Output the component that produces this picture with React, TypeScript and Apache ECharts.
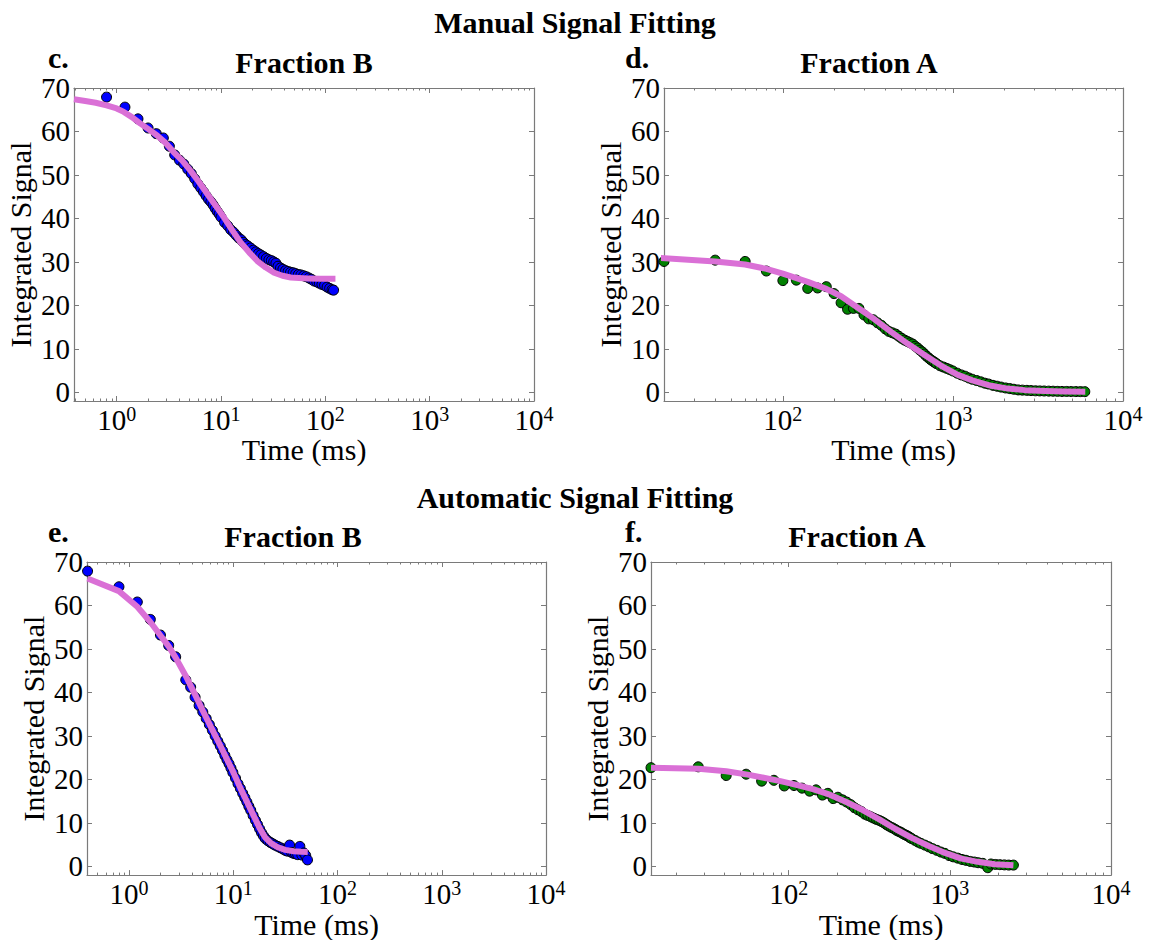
import React, { useEffect, useRef } from 'react';
import * as echarts from 'echarts';

const FONT = "'Liberation Serif', 'Times New Roman', 'DejaVu Serif', serif";
const GRAY = '#7a7a7a';
const FIT_COLOR = '#DA70D6';

// ---- Data: [time (ms), integrated signal] ----
const manualBPoints = [
  [0.8, 67.9], [1.2, 65.6], [1.6, 62.9], [2.0, 60.8], [2.4, 59.5], [2.8, 58.5], [3.2, 56.6], [3.6, 54.6],
  [4.0, 53.4], [4.4, 52.5], [4.8, 51.3], [5.2, 50.3], [5.6, 49.1], [6.0, 47.9], [6.4, 47.0], [6.8, 46.1],
  [7.2, 45.2], [7.6, 44.4], [8.0, 43.8], [8.4, 43.1], [8.8, 42.3], [9.2, 41.6], [9.6, 41.0], [10.0, 40.3],
  [10.8, 39.1], [11.6, 38.3], [12.4, 37.4], [13.2, 36.8], [14.0, 36.1], [14.8, 35.5], [15.6, 35.1], [16.4, 34.5],
  [17.2, 34.0], [18.0, 33.7], [19.2, 33.2], [20.4, 32.7], [21.6, 32.3], [22.8, 31.9], [24.0, 31.6], [25.6, 31.2],
  [27.2, 30.8], [28.8, 30.5], [30.4, 30.3], [32.0, 30.0], [33.6, 29.7], [35.2, 29.0], [37.2, 28.6], [39.2, 28.3],
  [41.6, 28.0], [44.0, 27.8], [46.4, 27.6], [49.2, 27.5], [52.0, 27.3], [55.2, 27.1], [58.4, 27.0], [62.0, 26.8],
  [65.6, 26.6], [69.6, 26.3], [73.6, 26.0], [78.0, 25.6], [82.8, 25.4], [87.6, 25.1], [92.8, 24.8], [98.4, 24.6],
  [104.0, 24.2], [110.0, 23.9], [116.0, 23.6], [120.0, 23.5],
];
const manualBFit = [
  [0.39, 67.4], [0.5, 67.0], [0.63, 66.6], [0.8, 66.0], [1.0, 65.3], [1.17, 64.5], [1.4, 63.3], [1.69, 61.8],
  [2.0, 60.6], [2.44, 59.1], [2.9, 57.5], [3.53, 55.2], [4.25, 53.3], [5.1, 51.0], [6.1, 48.5], [7.4, 45.6],
  [8.9, 42.9], [10.7, 40.2], [12.8, 37.3], [15.4, 34.5], [18.6, 32.2], [22.3, 30.2], [26.9, 28.7], [32.3, 27.5],
  [38.9, 26.8], [46.7, 26.4], [56, 26.3], [67.6, 26.2], [90, 26.1], [125, 26.1],
];

const manualAPoints = [
  [20, 30.1], [40, 30.4], [60, 30.1], [80, 27.9], [100, 25.7], [120, 25.8], [140, 23.9], [160, 24.0],
  [180, 24.3], [200, 22.7], [220, 20.6], [240, 19.1], [260, 19.3], [280, 19.3], [300, 17.8], [320, 16.9],
  [340, 16.7], [360, 16.0], [380, 15.4], [400, 14.6], [420, 14.0], [440, 13.7], [460, 13.4], [480, 12.9],
  [500, 12.4], [520, 12.0], [540, 11.7], [560, 11.4], [580, 11.1], [600, 10.6], [620, 10.2], [640, 9.7],
  [660, 9.3], [680, 8.8], [700, 8.3], [720, 7.9], [740, 7.5], [760, 7.2], [780, 6.9], [800, 6.6],
  [840, 6.1], [880, 5.8], [920, 5.5], [960, 5.2], [1000, 4.9], [1060, 4.4], [1120, 4.0], [1180, 3.7],
  [1240, 3.3], [1300, 3.0], [1380, 2.7], [1460, 2.4], [1540, 2.1], [1620, 1.9], [1720, 1.6], [1820, 1.4],
  [1920, 1.2], [2040, 1.0], [2160, 0.85], [2280, 0.7], [2420, 0.55], [2560, 0.5], [2720, 0.45], [2880, 0.4],
  [3060, 0.35], [3240, 0.32], [3440, 0.3], [3660, 0.27], [3880, 0.25], [4120, 0.22], [4380, 0.2], [4660, 0.2],
  [4960, 0.18], [5280, 0.17], [5620, 0.16], [5960, 0.15],
];
const manualAFit = [
  [19, 30.9], [40, 30.1], [60, 29.4], [80, 28.4], [100, 27.3], [140, 25.4], [180, 23.8], [220, 22.1],
  [280, 19.3], [340, 17.0], [433, 13.9], [540, 11.2], [681, 8.6], [853, 6.1], [1069, 4.0], [1300, 2.75],
  [1680, 1.5], [2100, 0.85], [2640, 0.5], [3500, 0.3], [4500, 0.2], [6000, 0.15],
];

const autoBPoints = [
  [0.4, 67.9], [0.8, 64.3], [1.2, 60.8], [1.6, 56.8], [2.0, 53.2], [2.4, 50.8], [2.8, 48.2], [3.5, 42.9],
  [3.9, 41.2], [4.3, 38.9], [4.7, 37.0], [5.1, 35.5], [5.5, 34.0], [5.9, 32.6], [6.3, 31.3], [6.7, 30.0],
  [7.1, 28.8], [7.5, 27.7], [7.9, 26.6], [8.3, 25.5], [8.7, 24.5], [9.1, 23.6], [9.5, 22.6], [9.9, 21.6],
  [10.5, 20.3], [11.1, 19.0], [11.7, 17.9], [12.3, 16.8], [12.9, 15.8], [13.5, 14.8], [14.1, 13.8], [14.7, 12.9],
  [15.5, 11.7], [16.3, 10.6], [17.1, 9.6], [17.9, 8.6], [18.7, 7.7], [19.5, 7.0], [20.3, 6.4], [21.5, 5.9],
  [22.7, 5.5], [23.9, 5.2], [25.1, 4.9], [26.7, 4.6], [28.3, 4.3], [29.9, 4.0], [31.5, 3.7], [33.1, 3.5],
  [34.7, 4.9], [36.3, 3.2], [37.9, 3.0], [39.5, 2.9], [41.5, 2.7], [43.5, 4.6], [45.5, 2.6], [47.5, 3.1],
  [49.5, 2.5], [51.5, 1.5],
];
const autoBFit = [
  [0.4, 66.2], [0.8, 63.3], [1.2, 59.7], [1.6, 56.2], [2.0, 53.1], [2.4, 50.6], [2.8, 48.0], [3.5, 43.8],
  [4.3, 39.5], [5.1, 35.8], [6.3, 31.4], [7.5, 27.8], [8.7, 24.6], [9.9, 21.9], [11.7, 18.0], [13.5, 14.9],
  [15.5, 11.9], [17.9, 8.8], [20.3, 6.6], [23.1, 5.3], [26.7, 4.4], [31.5, 3.8], [38, 3.5], [45, 3.35], [51.8, 3.3],
];

const autoAPoints = [
  [14, 22.7], [27.5, 22.9], [41, 20.9], [54.5, 21.2], [68, 19.6], [81, 19.8], [94, 18.5], [108, 18.6],
  [121, 18.0], [135, 17.3], [148, 17.6], [162, 16.4], [175, 16.8], [189, 15.6], [202, 15.9], [216, 15.3],
  [229, 14.8], [243, 14.2], [256, 13.5], [270, 13.0], [283, 12.6], [297, 12.0], [310, 11.7], [324, 11.4],
  [337, 11.1], [351, 10.8], [364, 10.6], [378, 10.3], [391, 10.0], [405, 9.6], [418, 9.3], [432, 9.0],
  [445, 8.8], [459, 8.5], [472, 8.2], [486, 8.0], [499, 7.8], [513, 7.5], [526, 7.3], [540, 7.1],
  [553, 6.9], [567, 6.6], [580, 6.4], [607, 6.0], [634, 5.6], [661, 5.3], [700, 4.9], [740, 4.5],
  [780, 4.1], [830, 3.7], [880, 3.3], [930, 3.0], [990, 2.5], [1050, 2.2], [1120, 1.9], [1190, 1.6],
  [1260, 1.4], [1340, 1.15], [1420, 1.0], [1500, 0.85], [1600, 0.7], [1720, -0.3], [1800, 0.55], [1920, 0.45],
  [2040, 0.4], [2180, 0.35], [2320, 0.3], [2480, 0.3],
];
const autoAFit = [
  [14, 22.7], [27.6, 22.45], [41, 21.9], [55.8, 21.1], [70, 20.4], [89, 19.6], [110, 18.8], [143, 17.7],
  [180, 16.5], [228, 14.8], [290, 12.9], [365, 10.8], [460, 8.6], [584, 6.5], [740, 4.7], [933, 3.1],
  [1180, 1.8], [1490, 1.05], [1900, 0.5], [2480, 0.25],
];

const yTickValues = [0, 10, 20, 30, 40, 50, 60, 70];
const xMajorValues = [1, 10, 100, 1000, 10000];
const Y_MIN = -2;
const Y_MAX = 70;
const X_MAX = 10000;

const panels = [
  { letter: 'c.', title: 'Fraction B', points: manualBPoints, fit: manualBFit, color: '#0000ff', xMin: 0.39,
    grid: { left: 74, top: 88, width: 460, height: 313 }, titleX: 304, titleY: 62, letterX: 48, letterY: 57 },
  { letter: 'd.', title: 'Fraction A', points: manualAPoints, fit: manualAFit, color: '#008000', xMin: 20,
    grid: { left: 664, top: 88, width: 459, height: 313 }, titleX: 869, titleY: 62, letterX: 625, letterY: 57 },
  { letter: 'e.', title: 'Fraction B', points: autoBPoints, fit: autoBFit, color: '#0000ff', xMin: 0.395,
    grid: { left: 87, top: 562, width: 459, height: 314 }, titleX: 293, titleY: 536, letterX: 48, letterY: 531 },
  { letter: 'f.', title: 'Fraction A', points: autoAPoints, fit: autoAFit, color: '#008000', xMin: 14,
    grid: { left: 651, top: 562, width: 460, height: 314 }, titleX: 857, titleY: 536, letterX: 625, letterY: 531 },
];

function minorValues(min: number): number[] {
  const out: number[] = [];
  for (let d = -1; d < 4; d++) {
    for (let k = 2; k <= 9; k++) {
      const v = parseFloat((k * Math.pow(10, d)).toPrecision(3));
      if (v > min && v < X_MAX) out.push(v);
    }
  }
  return out;
}

const xLabelFormatter = (v: number) => {
  const e = Math.round(Math.log10(v));
  if (Math.abs(Math.pow(10, e) - v) > 1e-6 * v) return '';
  return '{b|10}{s|' + e + '}';
};

const xRich = {
  b: { fontSize: 29, fontFamily: FONT, color: '#000', lineHeight: 30, verticalAlign: 'bottom' },
  s: { fontSize: 20, fontFamily: FONT, color: '#000', lineHeight: 18, verticalAlign: 'top' },
};

function buildOption() {
  const grid: any[] = [];
  const xAxis: any[] = [];
  const yAxis: any[] = [];
  const series: any[] = [];
  const graphic: any[] = [];

  const textEl = (text: string, x: number, y: number, align: string, lh: number) => ({
    type: 'text',
    silent: true,
    style: {
      text, x, y, fill: '#000',
      font: 'bold 30px ' + FONT,
      fontSize: 30, fontWeight: 'bold', fontFamily: FONT, lineHeight: lh,
      align, verticalAlign: 'middle', textAlign: align, textVerticalAlign: 'middle',
    },
  });

  graphic.push(textEl('Manual Signal Fitting', 575, 22.5, 'center', 30));
  graphic.push(textEl('Automatic Signal Fitting', 575, 497, 'center', 30));

  panels.forEach((p, i) => {
    grid.push({ ...p.grid, containLabel: false });
    const majors = xMajorValues.filter((v) => v >= p.xMin);
    const minors = minorValues(p.xMin);
    const baseX = {
      gridIndex: i, type: 'log', logBase: 10, min: p.xMin, max: X_MAX,
      splitLine: { show: false }, minorTick: { show: false }, minorSplitLine: { show: false },
    };
    xAxis.push({
      ...baseX, position: 'bottom',
      axisLine: { show: true, onZero: false, lineStyle: { color: GRAY, width: 1.2 } },
      axisTick: { show: true, inside: true, length: 5, customValues: majors, lineStyle: { color: GRAY, width: 1 } },
      axisLabel: { show: true, customValues: majors, formatter: xLabelFormatter, rich: xRich, margin: 3, color: '#000', fontFamily: FONT },
      name: 'Time (ms)', nameLocation: 'middle', nameGap: 29,
      nameTextStyle: { fontSize: 30, fontFamily: FONT, color: '#000' },
    });
    xAxis.push({
      ...baseX, position: 'top',
      axisLine: { show: true, onZero: false, lineStyle: { color: GRAY, width: 1.2 } },
      axisTick: { show: true, inside: true, length: 5, customValues: majors, lineStyle: { color: GRAY, width: 1 } },
      axisLabel: { show: false },
    });
    xAxis.push({
      ...baseX, position: 'bottom',
      axisLine: { show: false, onZero: false },
      axisTick: { show: true, inside: true, length: 2.5, customValues: minors, lineStyle: { color: GRAY, width: 1 } },
      axisLabel: { show: false },
    });
    xAxis.push({
      ...baseX, position: 'top',
      axisLine: { show: false, onZero: false },
      axisTick: { show: true, inside: true, length: 2.5, customValues: minors, lineStyle: { color: GRAY, width: 1 } },
      axisLabel: { show: false },
    });

    yAxis.push({
      gridIndex: i, type: 'value', min: Y_MIN, max: Y_MAX, position: 'left',
      splitLine: { show: false },
      axisLine: { show: true, onZero: false, lineStyle: { color: GRAY, width: 1.2 } },
      axisTick: { show: true, inside: true, length: 5, customValues: yTickValues, lineStyle: { color: GRAY, width: 1 } },
      axisLabel: { show: true, customValues: yTickValues, fontSize: 29, fontFamily: FONT, color: '#000', margin: 4 },
      name: 'Integrated Signal', nameLocation: 'middle', nameGap: 39,
      nameTextStyle: { fontSize: 30, fontFamily: FONT, color: '#000' },
    });
    yAxis.push({
      gridIndex: i, type: 'value', min: Y_MIN, max: Y_MAX, position: 'right',
      splitLine: { show: false },
      axisLine: { show: true, onZero: false, lineStyle: { color: GRAY, width: 1.2 } },
      axisTick: { show: true, inside: true, length: 5, customValues: yTickValues, lineStyle: { color: GRAY, width: 1 } },
      axisLabel: { show: false },
    });

    series.push({
      type: 'scatter', xAxisIndex: i * 4, yAxisIndex: i * 2,
      data: p.points, symbol: 'circle', symbolSize: 10, clip: true,
      itemStyle: { color: p.color, borderColor: '#000', borderWidth: 1, opacity: 1 },
      z: 2,
    });
    series.push({
      type: 'line', xAxisIndex: i * 4, yAxisIndex: i * 2,
      data: p.fit, showSymbol: false, symbol: 'none', smooth: false, clip: true,
      lineStyle: { color: FIT_COLOR, width: 6, join: 'round', cap: 'butt' },
      z: 3,
    });

    graphic.push(textEl(p.title, p.titleX, p.titleY, 'center', 30));
    graphic.push(textEl(p.letter, p.letterX, p.letterY, 'left', 24));
  });

  return {
    animation: false,
    textStyle: { fontFamily: FONT },
    grid, xAxis, yAxis, series, graphic,
  };
}

export default function App() {
  const ref = useRef<HTMLDivElement>(null);
  useEffect(() => {
    if (!ref.current) return;
    const chart = echarts.init(ref.current, undefined, { renderer: 'svg' });
    chart.setOption(buildOption() as any);
    return () => chart.dispose();
  }, []);
  return (
    <div
      ref={ref}
      style={{ position: 'fixed', left: 0, top: 0, width: 1151, height: 940, background: '#fff' }}
    />
  );
}
